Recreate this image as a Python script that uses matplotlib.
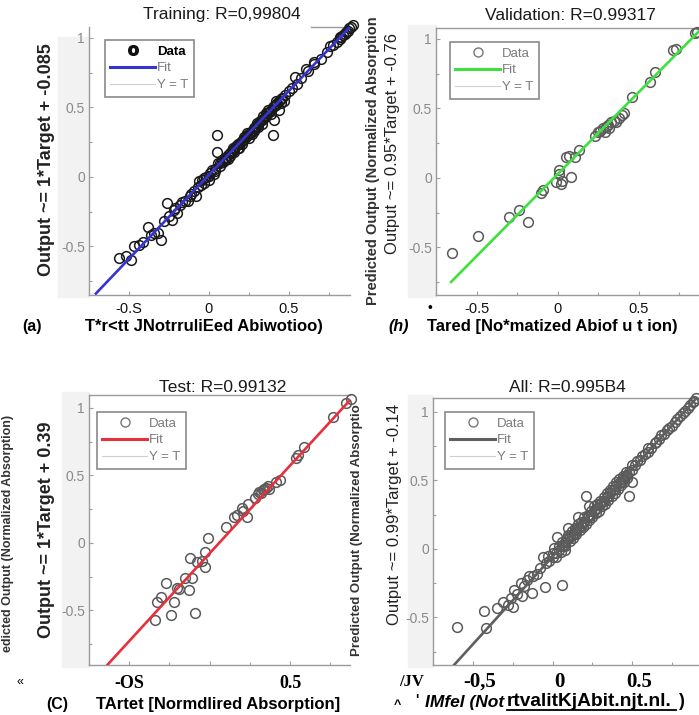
import matplotlib.pyplot as plt
from matplotlib.lines import Line2D
from matplotlib.patches import Rectangle
from matplotlib.transforms import ScaledTranslation

plt.rcParams['font.family'] = ['Liberation Sans', 'DejaVu Sans']
SERIF = ['Liberation Serif', 'DejaVu Serif']

W, H = 699, 715

# ---- data (target, output) ----
train_target = [-0.56, -0.52, -0.49, -0.47, -0.44, -0.41, -0.38, -0.36, -0.34, -0.32, -0.30, -0.28,
                -0.26, -0.25, -0.23, -0.22, -0.21, -0.20, -0.18, -0.17, -0.15, -0.13, -0.12, -0.11,
                -0.09, -0.08, -0.07, -0.06, -0.05, -0.04, -0.03, -0.03, -0.02, 0.00, 0.00, 0.01,
                0.02, 0.03, 0.04, 0.04, 0.05, 0.05, 0.06, 0.07, 0.07, 0.08, 0.09, 0.10, 0.10, 0.11,
                0.12, 0.12, 0.13, 0.13, 0.14, 0.15, 0.15, 0.16, 0.16, 0.17, 0.18, 0.18, 0.19, 0.19,
                0.20, 0.21, 0.21, 0.22, 0.22, 0.23, 0.24, 0.24, 0.25, 0.25, 0.26, 0.27, 0.27, 0.28,
                0.28, 0.29, 0.30, 0.30, 0.31, 0.31, 0.32, 0.33, 0.33, 0.34, 0.34, 0.35, 0.36, 0.36,
                0.37, 0.37, 0.38, 0.39, 0.39, 0.40, 0.40, 0.41, 0.41, 0.42, 0.42, 0.43, 0.44, 0.44,
                0.45, 0.45, 0.46, 0.47, 0.48, 0.50, 0.52, 0.54, 0.55, 0.58, 0.61, 0.62, 0.66, 0.66,
                0.70, 0.74, 0.76, 0.78, 0.80, 0.82, 0.82, 0.83, 0.84, 0.85, 0.86, 0.87, 0.88, 0.89, 0.90]
train_output = [-0.58, -0.57, -0.60, -0.50, -0.49, -0.47, -0.36, -0.42, -0.40, -0.40, -0.45, -0.32,
                -0.19, -0.28, -0.31, -0.24, -0.22, -0.26, -0.20, -0.18, -0.17, -0.17, -0.14, -0.12,
                -0.10, -0.14, -0.07, -0.03, -0.06, -0.02, -0.04, -0.01, 0.00, 0.01, -0.02, 0.03,
                0.05, 0.02, 0.06, 0.04, 0.30, 0.18, 0.10, 0.08, 0.10, 0.12, 0.11, 0.14, 0.12, 0.13,
                0.16, 0.13, 0.15, 0.17, 0.18, 0.19, 0.21, 0.20, 0.18, 0.22, 0.21, 0.24, 0.24, 0.21,
                0.25, 0.26, 0.24, 0.27, 0.29, 0.29, 0.30, 0.32, 0.31, 0.28, 0.32, 0.33, 0.31, 0.35,
                0.33, 0.36, 0.37, 0.39, 0.38, 0.36, 0.40, 0.41, 0.38, 0.42, 0.44, 0.43, 0.44, 0.46,
                0.46, 0.48, 0.47, 0.48, 0.45, 0.50, 0.30, 0.41, 0.51, 0.52, 0.55, 0.53, 0.55, 0.48,
                0.56, 0.53, 0.57, 0.55, 0.59, 0.62, 0.64, 0.72, 0.67, 0.71, 0.78, 0.76, 0.83, 0.81,
                0.85, 0.90, 0.94, 0.95, 0.97, 1.01, 0.99, 1.01, 1.02, 1.03, 1.04, 1.05, 1.07, 1.08, 1.09]

val_target = [-0.65, -0.49, -0.30, -0.24, -0.18, -0.10, -0.09, -0.01, 0.01, 0.02, 0.01, 0.03,
              0.05, 0.08, 0.07, 0.11, 0.13, 0.23, 0.25, 0.26, 0.28, 0.29, 0.30, 0.31, 0.32,
              0.33, 0.35, 0.36, 0.38, 0.40, 0.41, 0.46, 0.57, 0.60, 0.71, 0.73, 0.85, 0.86]
val_output = [-0.54, -0.42, -0.28, -0.23, -0.32, -0.11, -0.09, -0.03, 0.03, -0.04, 0.06, -0.02,
              0.15, 0.01, 0.16, 0.15, 0.20, 0.30, 0.33, 0.34, 0.36, 0.33, 0.37, 0.38, 0.36,
              0.40, 0.41, 0.40, 0.43, 0.45, 0.47, 0.58, 0.69, 0.76, 0.92, 0.93, 1.04, 1.05]

test_target = [-0.34, -0.33, -0.30, -0.27, -0.24, -0.22, -0.20, -0.19, -0.15, -0.13, -0.12, -0.11,
               -0.09, -0.08, -0.05, -0.03, -0.03, -0.01, 0.10, 0.15, 0.17, 0.20, 0.21, 0.23, 0.24,
               0.28, 0.30, 0.31, 0.32, 0.33, 0.34, 0.35, 0.36, 0.37, 0.41, 0.44, 0.54, 0.55, 0.59,
               0.77, 0.85, 0.88]
test_output = [-0.57, -0.44, -0.40, -0.30, -0.53, -0.44, -0.33, -0.34, -0.26, -0.35, -0.11, -0.26,
               -0.52, -0.14, -0.13, -0.18, -0.07, 0.04, 0.12, 0.19, 0.21, 0.26, 0.24, 0.19, 0.29,
               0.33, 0.36, 0.38, 0.37, 0.39, 0.40, 0.41, 0.42, 0.40, 0.45, 0.47, 0.63, 0.65, 0.71,
               0.93, 1.04, 1.07]

all_target = [-0.60, -0.43, -0.42, -0.35, -0.31, -0.28, -0.26, -0.25, -0.24, -0.22, -0.20, -0.19,
              -0.18, -0.16, -0.15, -0.13, -0.12, -0.10, -0.08, -0.06, -0.05, -0.04, -0.03, 0.01,
              0.03, 0.06, 0.07, 0.08, 0.10, 0.14, 0.16, 0.21, 0.23,
              -0.02, 0.00, 0.00, 0.02, 0.02, 0.04, 0.04, 0.05, 0.06, 0.06, 0.08, 0.08, 0.09, 0.10,
              0.10, 0.11, 0.12, 0.12, 0.13, 0.14, 0.14, 0.15, 0.16, 0.16, 0.17, 0.18, 0.18, 0.19,
              0.20, 0.20, 0.21, 0.22, 0.22, 0.23, 0.24, 0.24, 0.25, 0.26, 0.26, 0.27, 0.28, 0.28,
              0.29, 0.30, 0.30, 0.31, 0.32, 0.32, 0.33, 0.34, 0.34, 0.35, 0.36, 0.36, 0.37, 0.38,
              0.38, 0.39, 0.40, 0.40, 0.41, 0.42, 0.42, 0.43, 0.44, 0.44, 0.45, 0.46, 0.46, 0.47,
              0.48, 0.48, 0.50, 0.50, 0.50, 0.52, 0.53, 0.55, 0.56, 0.58, 0.60, 0.60, 0.62, 0.64,
              0.65, 0.67, 0.68, 0.70, 0.72, 0.73, 0.75, 0.77, 0.78, 0.80, 0.82, 0.83, 0.85, 0.86,
              0.88, 0.89, 0.90,
              0.11, 0.15, 0.19, 0.23, 0.27, 0.31, 0.35, 0.39, 0.43, 0.47]
all_output = [-0.57, -0.45, -0.58, -0.43, -0.39, -0.41, -0.36, -0.42, -0.30, -0.33, -0.25, -0.34,
              -0.27, -0.23, -0.20, -0.32, -0.20, -0.18, -0.14, -0.06, -0.28, -0.10, -0.05, 0.01,
              0.09, -0.26, 0.03, -0.01, 0.15, 0.14, 0.23, 0.39, 0.31,
              -0.09, -0.06, -0.03, -0.03, -0.06, -0.01, 0.02, -0.02, 0.02, 0.05, 0.05, 0.02, 0.08, 0.07,
              0.10, 0.06, 0.10, 0.13, 0.08, 0.12, 0.15, 0.11, 0.15, 0.18, 0.14, 0.17, 0.20, 0.16,
              0.20, 0.23, 0.18, 0.23, 0.25, 0.21, 0.25, 0.28, 0.23, 0.28, 0.31, 0.26, 0.30, 0.33,
              0.28, 0.33, 0.35, 0.31, 0.35, 0.38, 0.33, 0.38, 0.41, 0.36, 0.41, 0.43, 0.39, 0.43,
              0.46, 0.41, 0.46, 0.49, 0.44, 0.48, 0.51, 0.47, 0.51, 0.53, 0.49, 0.53, 0.56, 0.52,
              0.56, 0.39, 0.49, 0.58, 0.61, 0.61, 0.64, 0.65, 0.68, 0.69, 0.71, 0.74, 0.74, 0.77,
              0.78, 0.80, 0.83, 0.84, 0.87, 0.88, 0.90, 0.93, 0.95, 0.97, 0.99, 1.01, 1.03, 1.05,
              1.07, 1.08, 1.10,
              0.09, 0.14, 0.19, 0.24, 0.29, 0.34, 0.39, 0.44, 0.49, 0.54]

# fitted lines as they appear on each panel (slope, intercept)
fit_slope = [1.206, 1.18, 1.30, 1.28]
fit_icept = [0.014, 0.027, -0.077, -0.056]

titles = ['Training: R=0,99804', 'Validation: R=0.99317', 'Test: R=0.99132', 'All: R=0.995B4']
xtick_labels = [['-0.S', '0', '0.5'], ['-0.5', '0', '0.5'], ['-OS', '', '0.5'], ['-0,5', '0', '0.5']]
ytick_labels = ['-0.5', '0', '0.5', '1']

fig = plt.figure(figsize=(W / 100, H / 100), dpi=100)


def box(l, t, r, b):
    return [l / W, 1 - b / H, (r - l) / W, (b - t) / H]


def txt(x, y, s, **kw):
    kw.setdefault('ha', 'center')
    kw.setdefault('va', 'center')
    return fig.text(x / W, 1 - y / H, s, **kw)


# light grey figure background strips behind the y tick labels
for l, t, r, b in [(58, 37, 89, 297), (408, 25, 436, 297), (62, 392, 89, 667), (408, 395, 433, 667)]:
    fig.patches.append(Rectangle((l / W, 1 - b / H), (r - l) / W, (b - t) / H,
                                 transform=fig.transFigure, color='#f2f2f2', zorder=-5))

panels = [
    dict(t=train_target, o=train_output, box=(89, 27, 350, 295), xl=(-0.707, 0.884), yl=(-0.849, 1.079),
         color='#3434d2', mec='#1a1a1a', leg=(105, 40), tfont=None, tsize=10.5, tpad=5, dx=0),
    dict(t=val_target, o=val_output, box=(436, 28, 699, 295), xl=(-0.657, 0.872), yl=(-0.842, 1.079),
         color='#3ee03e', mec='#5a5a5a', leg=(450, 42), tfont=None, tsize=10.5, tpad=5, dx=0),
    dict(t=test_target, o=test_output, box=(89, 395, 350, 665), xl=(-0.678, 0.873), yl=(-0.904, 1.096),
         color='#e8303c', mec='#5a5a5a', leg=(97, 412), tfont=SERIF, tsize=13, tpad=7, dx=0),
    dict(t=all_target, o=all_output, box=(433, 398, 699, 665), xl=(-0.618, 0.919), yl=(-0.847, 1.102),
         color='#5f5f5f', mec='#5a5a5a', leg=(445, 412), tfont=SERIF, tsize=15, tpad=5, dx=7),
]

for i, p in enumerate(panels):
    ax = fig.add_axes(box(*p['box']))
    ax.set_facecolor('white')
    ax.set_xlim(*p['xl'])
    ax.set_ylim(*p['yl'])

    ax.plot(p['t'], p['o'], ls='none', marker='o', mfc='none', mec=p['mec'], ms=7, mew=1.1,
            clip_on=False, zorder=3)
    x0, x1 = p['xl']
    ax.plot([x0, x1], [fit_slope[i] * x0 + fit_icept[i], fit_slope[i] * x1 + fit_icept[i]],
            color=p['color'], lw=1.9, zorder=4)

    ax.set_xticks([-0.5, 0, 0.5])
    ax.set_xticks([-0.75, -0.25, 0.25, 0.75], minor=True)
    ax.set_yticks([-0.5, 0, 0.5, 1])
    ax.set_yticks([-0.75, -0.25, 0.25, 0.75], minor=True)
    ax.set_yticklabels(ytick_labels, fontsize=10, color='#8a8a8a')
    if p['tfont']:
        ax.set_xticklabels(xtick_labels[i], fontsize=p['tsize'], family=p['tfont'], fontweight='bold')
    else:
        ax.set_xticklabels(xtick_labels[i], fontsize=p['tsize'], color='#111111')
    ax.tick_params(axis='both', which='both', direction='in', color='#a0a0a0', width=0.8)
    ax.tick_params(which='major', length=3)
    ax.tick_params(which='minor', length=2)
    ax.tick_params(axis='y', pad=3)
    ax.tick_params(axis='x', pad=p['tpad'])
    if p['dx']:
        for lab in ax.get_xticklabels():
            lab.set_transform(lab.get_transform() + ScaledTranslation(p['dx'] / 100, 0, fig.dpi_scale_trans))

    for s in ['left', 'bottom', 'top']:
        ax.spines[s].set_color('#9a9a9a')
        ax.spines[s].set_linewidth(1.0)
    ax.spines['right'].set_visible(False)
    if i == 0:
        ax.spines['top'].set_bounds(0.64, x1)

    # legend
    if i == 0:
        h_data = Line2D([], [], ls='none', marker=r'$\mathbf{O}$', color='#111111', ms=7)
    else:
        h_data = Line2D([], [], ls='none', marker='o', mfc='none', mec='#777777', ms=6.5, mew=1.0)
    h_fit = Line2D([], [], color=p['color'], lw=2.2)
    h_yt = Line2D([], [], color='#cfcfcf', lw=0.8)
    lx, ly = p['leg']
    leg = ax.legend([h_data, h_fit, h_yt], ['Data', 'Fit', 'Y = T'], loc='upper left',
                    bbox_to_anchor=(lx / W, 1 - ly / H), bbox_transform=fig.transFigure,
                    borderaxespad=0, fontsize=9.5, handlelength=3.4, handletextpad=0.15,
                    labelspacing=0.35, borderpad=0.4, fancybox=False, framealpha=1)
    leg.get_frame().set_edgecolor('#8a8a8a')
    leg.get_frame().set_linewidth(1.2)
    for t in leg.get_texts():
        t.set_color('#7a7a7a')
    if i == 0:
        leg.get_texts()[0].set_color('black')
        leg.get_texts()[0].set_fontweight('bold')

# titles
for (x, y), s in zip([(222, 14), (570, 15), (223, 388), (567, 387)], titles):
    txt(x, y, s, fontsize=12.5, color='#1a1a1a')

# y labels
txt(47, 160, 'Output ~= 1*Target + -0.085', rotation=90, fontsize=13, fontweight='bold', color='#222222')
txt(373, 161, 'Predicted Output (Normalized Absorption', rotation=90, fontsize=10.5, fontweight='bold', color='#333333')
txt(393, 143, 'Output ~= 0.95*Target + -0.76', rotation=90, fontsize=12, color='#222222')
txt(8, 533, 'edicted Output (Normalized Absorption)', rotation=90, fontsize=9, fontweight='bold', color='#333333')
txt(47, 530, 'Output ~= 1*Target + 0.39', rotation=90, fontsize=13, fontweight='bold', color='#222222')
txt(357, 530, 'Predicted Output (Normalized Absorptio', rotation=90, fontsize=9.5, fontweight='bold', color='#333333')
txt(395, 514, 'Output ~= 0.99*Target + -0.14', rotation=90, fontsize=12, color='#222222')

# x labels (as printed)
txt(32, 327, '(a)', fontsize=11.5, fontweight='bold')
txt(204, 327, 'T*r<tt JNotrruliEed Abiwotioo)', fontsize=12, fontweight='bold')
txt(430, 308, '\u2022', fontsize=10)
txt(399, 326, '(h)', fontsize=11.5, fontweight='bold', style='italic')
txt(552, 326, 'Tared [No*matized Abiof u t ion)', fontsize=12, fontweight='bold')
txt(20, 682, '\u00ab', fontsize=9)
txt(57, 704, '(C)', fontsize=11.5, fontweight='bold')
txt(218, 704, 'TArtet [Normdlired Absorption]', fontsize=12, fontweight='bold')
txt(412, 682, '/JV', fontsize=12, family=SERIF, fontweight='bold')
txt(397, 705, '^', fontsize=9, fontweight='bold')
txt(417, 700, "'", fontsize=10, fontweight='bold')
txt(425, 702, 'IMfel (Not', ha='left', fontsize=12.5, fontweight='bold', style='italic')
txt(507, 702, 'rtvalitKjAbit.njt.nl.', ha='left', fontsize=13.8, fontweight='bold')
txt(678, 702, ')', ha='left', fontsize=13, fontweight='bold')
fig.add_artist(Line2D([507 / W, 676 / W], [1 - 710 / H, 1 - 710 / H], color='black', lw=1.3))

fig.savefig('out.png', dpi=100)
